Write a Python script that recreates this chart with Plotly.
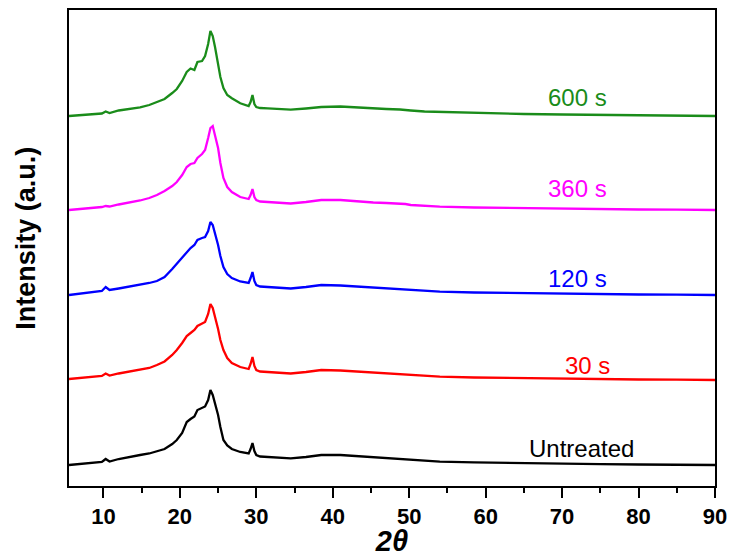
import plotly.graph_objects as go

# 2-theta sampling positions (degrees)
two_theta = [5.5, 7, 8.5, 9.8, 10.3, 10.8, 12, 13.5, 14.8, 16, 17, 18, 19, 19.6, 20.3, 20.9,
             21.4, 21.9, 22.3, 22.9, 23.3, 23.7, 24.0, 24.3, 24.6, 25.0, 25.3, 25.7, 26.2,
             26.8, 27.9, 29.0, 29.25, 29.5, 29.75, 30.0, 30.5, 31.5, 33, 34.5, 36.5, 38.5,
             41, 43, 45.3, 47, 48.8, 49.5, 50.2, 52, 54, 58.5, 65, 70, 75, 80, 85, 90]

# Diffracted intensity of each sample (a.u., above its own baseline)
untreated = [0, 1, 2, 3, 6, 3.5, 6, 8.5, 10, 11.5, 14, 16, 21, 25, 32, 43, 46, 48.5, 55, 57,
             58.5, 65, 75, 70, 62, 50, 38, 25, 19.5, 16, 13, 11.5, 16, 22, 14, 10, 8.5, 8,
             7.5, 6.7, 8, 10, 10, 9, 7.7, 7, 6, 6, 5, 4, 3.3, 2.7, 1.7, 1, 0.8, 0.5, 0.3, 0]
t30 = [1, 2, 3, 4, 6.5, 4.5, 6.5, 8.5, 10, 12, 15, 18.5, 25, 30, 37, 44, 47, 50, 54, 56,
       58, 66, 76, 72, 64, 51, 40, 30, 22, 17, 13, 11, 16, 23, 14, 10, 8.5, 8, 7.5, 6.5,
       8, 10, 9.5, 8.5, 7.5, 7, 6, 6, 5, 4, 3.3, 2.5, 1.7, 1, 0.8, 0.5, 0.3, 0]
t120 = [0, 1.5, 3, 4, 8, 5, 6.5, 8.5, 10, 12, 14, 18, 26, 31, 37, 42, 47, 50, 55, 57,
        58, 64, 73, 70, 62, 50, 39, 28, 21, 17, 13.5, 12, 17, 23, 14, 10, 8.5, 8, 7.5, 6.5,
        8, 10, 9.5, 8.5, 7.5, 7, 6, 6, 5, 4, 3.3, 2.5, 1.7, 1, 0.8, 0.5, 0.3, 0]
t360 = [0, 1, 2, 3, 4, 3.5, 5.5, 7.5, 9.5, 12, 15, 19, 24, 28, 35, 43, 46, 47, 52, 56,
        60, 72, 82, 84, 75, 62, 47, 32, 23, 18, 13, 11, 15, 21, 13, 10, 8.5, 8, 7, 6.5,
        8, 10, 10, 8.5, 7.5, 7, 6.5, 6, 5, 4, 3.3, 2.5, 1.7, 1, 0.8, 0.5, 0.3, 0]
t600 = [0, 1, 2, 2.5, 4.5, 3, 5.5, 7, 8.7, 11, 14, 17, 23, 27, 35, 44, 47.5, 46, 54, 55,
        60, 72, 85, 80, 69, 52, 39, 28, 21, 17.7, 12.7, 10, 14, 21, 12, 9, 8, 7.7, 6.7,
        6.3, 7.5, 9, 9.5, 8.5, 7.5, 7, 6.5, 6.3, 5.5, 4.5, 4, 3, 2, 1.5, 1, 0.8, 0.4, 0]

series_names = ["Untreated", "30 s", "120 s", "360 s", "600 s"]
series_values = [untreated, t30, t120, t360, t600]
stack_offsets = [21, 106, 191, 276, 370]
colors = ["#000000", "#ff0000", "#0000ff", "#ff00ff", "#1a8c1a"]

# label anchor (2-theta, stacked intensity)
label_x = [72.6, 73.3, 72.0, 72.0, 72.0]
label_y = [38, 121, 208, 298, 389]

fig = go.Figure()
for name, vals, off, col in zip(series_names, series_values, stack_offsets, colors):
    fig.add_trace(go.Scatter(
        x=two_theta, y=[v + off for v in vals], mode="lines", name=name,
        line=dict(color=col, width=2.3), showlegend=False,
    ))

for name, lx, ly, col in zip(series_names, label_x, label_y, colors):
    fig.add_annotation(x=lx, y=ly, text=name, showarrow=False,
                       font=dict(family="Liberation Sans, Arial", size=24, color=col),
                       xanchor="center", yanchor="middle")

fig.add_annotation(xref="paper", yref="paper", x=-0.066, y=0.52, text="<b>Intensity (a.u.)</b>",
                   textangle=-90, showarrow=False, xanchor="center", yanchor="middle",
                   font=dict(family="Liberation Sans, Arial", size=27, color="#000"))

fig.update_layout(
    width=730, height=557,
    margin=dict(l=69, r=15, t=10, b=71),
    plot_bgcolor="white", paper_bgcolor="white",
    xaxis=dict(
        range=[5.5, 90], tickvals=[10, 20, 30, 40, 50, 60, 70, 80, 90],
        ticks="outside", ticklen=10, tickwidth=1.5, tickcolor="#000",
        minor=dict(dtick=5, tick0=0, ticks="outside", ticklen=5, tickwidth=1.5, tickcolor="#000"),
        showline=True, linecolor="#000", linewidth=1.8, mirror=True,
        showgrid=False, zeroline=False, automargin=False,
        tickfont=dict(family="Liberation Sans, Arial", size=22, color="#000", weight="bold"),
        title=dict(text="<b><i>2θ</i></b>", standoff=7,
                   font=dict(family="Liberation Sans, Arial", size=29, color="#000")),
    ),
    yaxis=dict(
        range=[0, 476], showticklabels=False, ticks="",
        showline=True, linecolor="#000", linewidth=1.8, mirror=True,
        showgrid=False, zeroline=False, automargin=False,
    ),
)

fig.write_html("out.html")
